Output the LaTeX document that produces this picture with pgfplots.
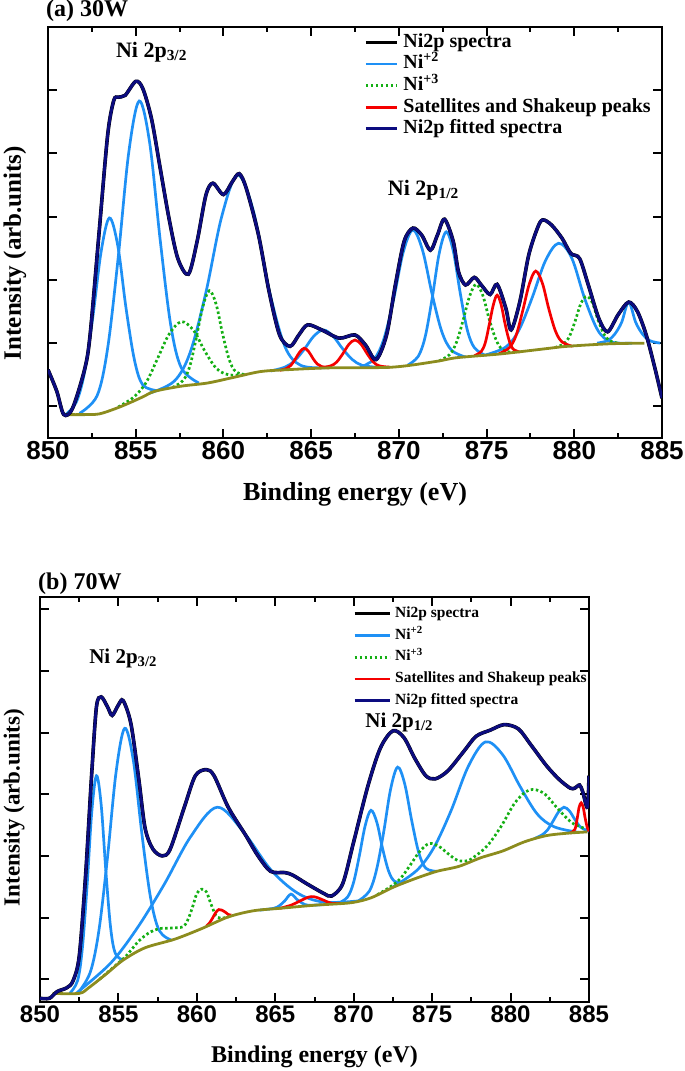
\documentclass[border=0pt]{standalone}
\usepackage{fontspec}
\setmainfont{Liberation Serif}
\newfontfamily\arialfont{Liberation Sans}
\usepackage{pgfplots}
\pgfplotsset{compat=1.18}
\definecolor{niblue}{RGB}{30,144,245}
\definecolor{nigreen}{RGB}{20,175,20}
\definecolor{nired}{RGB}{245,0,0}
\definecolor{ninavy}{RGB}{12,12,128}
\definecolor{niolive}{RGB}{140,140,30}
\pgfplotsset{
  xps/.style={
    scale only axis,
    xmin=850, xmax=885,
    xtick={850,855,...,885},
    minor x tick num=1,
    ytick={1,...,7},
    yticklabels={},
    tick align=inside,
    axis line style={line width=2.4pt},
    every tick/.style={black, line width=2pt},
    major tick length=9pt,
    minor tick length=5pt,
    /pgf/number format/assume math mode=true,
    /pgf/number format/1000 sep={},
    legend cell align=left,
    legend image code/.code={\draw[#1] (0pt,0pt) -- (31pt,0pt);},
  },
  cb/.style={niblue, line width=2.7pt, smooth, tension=0.55, forget plot},
  cg/.style={nigreen, line width=2.7pt, dash pattern=on 2.5pt off 2.5pt, smooth, tension=0.55, forget plot},
  cr/.style={nired, line width=2.7pt, smooth, tension=0.55, forget plot},
  co/.style={niolive, line width=2.8pt, smooth, tension=0.5, forget plot},
  ck/.style={black, line width=3.6pt, smooth, tension=0.5, forget plot},
  cn/.style={ninavy, line width=2.9pt, smooth, tension=0.5, forget plot},
}
\begin{document}
\begin{tikzpicture}
\useasboundingbox (0,0) rectangle (685pt,-1071pt);
% ---------------- panel (a) ----------------
\begin{axis}[xps,
  at={(48pt,-438pt)}, anchor=south west,
  width=614pt, height=411pt,
  ymin=0.5, ymax=7,
  xticklabel style={font=\arialfont\bfseries\fontsize{26}{26}\selectfont},
  xlabel={Binding energy (eV)},
  xlabel style={font=\bfseries\fontsize{26}{26}\selectfont, at={(axis description cs:0.5,0)}, anchor=center, yshift=-56pt},
  ylabel={Intensity (arb.units)},
  ylabel style={font=\bfseries\fontsize{25}{25}\selectfont, at={(axis description cs:-0.054,0.45)}, anchor=center, rotate=0},
  legend style={at={(axis description cs:0.515,0.985)}, anchor=north west, draw=none, fill=none,
    font=\bfseries\fontsize{20}{20}\selectfont, inner sep=0pt, row sep=3.6pt, column sep=5pt,
    nodes={inner sep=0pt, text height=14pt, text depth=4pt}},
]
\addlegendimage{black, line width=3pt}\addlegendentry{Ni2p spectra}
\addlegendimage{niblue, line width=2.7pt}\addlegendentry{Ni\textsuperscript{+2}}
\addlegendimage{nigreen, line width=2.7pt, dash pattern=on 2.5pt off 2.5pt}\addlegendentry{Ni\textsuperscript{+3}}
\addlegendimage{nired, line width=2.7pt}\addlegendentry{Satellites and Shakeup peaks}
\addlegendimage{ninavy, line width=2.9pt}\addlegendentry{Ni2p fitted spectra}
% Ni+2 components
\addplot[cb] coordinates {(851.0,0.87)(851.6,1.06)(852.07,1.52)(852.55,2.40)(853.03,3.45)(853.5,3.98)(853.98,3.54)(854.45,2.55)(854.93,1.73)(855.4,1.34)(856.2,1.25)};
\addplot[cb] coordinates {(851.8,0.89)(852.8,1.17)(853.4,1.92)(854.0,3.35)(854.6,5.01)(855.2,5.83)(855.8,5.16)(856.4,3.62)(857.0,2.28)(857.6,1.61)(858.6,1.37)};
\addplot[cb] coordinates {(855.8,1.21)(857.2,1.40)(858.1,1.85)(859.0,2.80)(859.9,4.00)(860.8,4.66)(861.7,4.10)(862.6,2.85)(863.5,1.95)(864.4,1.65)(865.8,1.61)};
\addplot[cb] coordinates {(862.7,1.56)(863.5,1.62)(864.05,1.72)(864.6,1.90)(865.15,2.11)(865.7,2.21)(866.25,2.11)(866.8,1.91)(867.35,1.74)(867.9,1.65)(868.7,1.62)};
\addplot[cb] coordinates {(867.8,1.62)(868.6,1.75)(869.15,2.07)(869.7,2.69)(870.25,3.44)(870.8,3.79)(871.35,3.47)(871.9,2.77)(872.45,2.18)(873.0,1.89)(873.8,1.78)};
\addplot[cb] coordinates {(870.5,1.65)(871.1,1.79)(871.5,2.10)(871.9,2.71)(872.3,3.42)(872.7,3.76)(873.1,3.46)(873.5,2.79)(873.9,2.21)(874.3,1.93)(874.9,1.81)};
\addplot[cb] coordinates {(874.9,1.81)(876.1,1.94)(876.85,2.21)(877.6,2.72)(878.35,3.30)(879.1,3.58)(879.85,3.35)(880.6,2.70)(881.35,2.20)(882.1,2.02)(883.3,2.0)};
\addplot[cb] coordinates {(881.3,2.0)(881.9,2.04)(882.3,2.14)(882.7,2.33)(883.1,2.65)(883.5,2.33)(883.9,2.14)(884.3,2.04)(884.9,2.0)};
% Ni+3 components
\addplot[cg] coordinates {(854.0,0.99)(854.9,1.15)(855.6,1.38)(856.25,1.76)(856.9,2.14)(857.6,2.34)(858.3,2.20)(858.95,1.87)(859.6,1.60)(860.3,1.50)(861.2,1.50)};
\addplot[cg] coordinates {(857.1,1.30)(857.7,1.41)(858.08,1.63)(858.45,2.08)(858.83,2.58)(859.2,2.83)(859.58,2.62)(859.95,2.15)(860.33,1.74)(860.7,1.55)(861.3,1.50)};
\addplot[cg] coordinates {(872.3,1.72)(872.9,1.82)(873.28,2.01)(873.65,2.35)(874.03,2.74)(874.4,2.93)(874.78,2.76)(875.15,2.38)(875.53,2.06)(875.9,1.90)(876.5,1.85)};
\addplot[cg] coordinates {(878.9,1.93)(879.4,1.99)(879.73,2.11)(880.05,2.35)(880.38,2.63)(880.7,2.74)(881.03,2.64)(881.35,2.37)(881.68,2.15)(882.0,2.04)(882.5,2.0)};
% satellites
\addplot[cr] coordinates {(863.2,1.57)(863.6,1.60)(863.85,1.65)(864.1,1.75)(864.35,1.86)(864.6,1.92)(864.85,1.87)(865.1,1.76)(865.35,1.67)(865.6,1.63)(866.0,1.61)};
\addplot[cr] coordinates {(865.5,1.61)(866.1,1.64)(866.45,1.70)(866.8,1.83)(867.15,1.98)(867.5,2.05)(867.85,1.98)(868.2,1.83)(868.55,1.70)(868.9,1.64)(869.5,1.62)};
\addplot[cr] coordinates {(874.3,1.80)(874.7,1.87)(874.93,2.01)(875.15,2.29)(875.38,2.60)(875.6,2.76)(875.83,2.61)(876.05,2.31)(876.28,2.05)(876.5,1.91)(876.9,1.86)};
\addplot[cr] coordinates {(875.7,1.83)(876.3,1.93)(876.68,2.12)(877.05,2.50)(877.43,2.93)(877.8,3.14)(878.18,2.95)(878.55,2.54)(878.93,2.19)(879.3,2.02)(879.9,1.95)};
% background
\addplot[co] coordinates {(851.0,0.87)(852.0,0.87)(852.9,0.88)(853.8,0.96)(854.6,1.05)(855.4,1.15)(856.1,1.24)(857.6,1.32)(859.1,1.37)(860.6,1.46)(862.1,1.55)(863.6,1.58)(866.1,1.61)(869.6,1.62)(872.1,1.71)(873.3,1.77)(875.8,1.83)(878.3,1.91)(879.6,1.95)(882.0,1.99)(884.0,2.0)};
% spectrum and fit
\addplot[ck] coordinates {(850.0,1.58)(850.5,1.24)(850.9,0.87)(851.4,0.97)(852.1,1.6)(852.4,2.13)(852.9,3.71)(853.4,5.29)(853.75,5.84)(854.0,5.89)(854.4,5.92)(855.0,6.14)(855.4,6.03)(855.9,5.55)(856.4,4.76)(856.9,3.97)(857.4,3.34)(858.0,3.09)(858.5,3.61)(859.0,4.34)(859.4,4.53)(860.0,4.35)(860.5,4.55)(860.9,4.68)(861.3,4.45)(862.0,3.71)(862.6,2.82)(863.2,2.13)(863.8,1.95)(864.3,2.13)(864.8,2.29)(865.6,2.21)(866.6,2.08)(867.5,2.13)(868.1,1.97)(868.7,1.74)(869.3,2.13)(869.8,2.92)(870.3,3.61)(870.8,3.82)(871.3,3.71)(871.8,3.47)(872.2,3.71)(872.6,3.96)(873.1,3.61)(873.4,3.13)(873.8,2.92)(874.3,3.04)(874.7,2.92)(875.2,2.77)(875.6,2.93)(876.1,2.55)(876.4,2.21)(876.9,2.66)(877.4,3.39)(877.9,3.82)(878.2,3.95)(878.7,3.87)(879.3,3.66)(879.8,3.42)(880.3,3.34)(880.8,2.92)(881.4,2.39)(881.9,2.18)(882.5,2.45)(883.1,2.65)(883.6,2.5)(884.1,2.13)(884.6,1.6)(885.0,1.13)};
\addplot[cn] coordinates {(850.0,1.58)(850.5,1.24)(850.9,0.87)(851.4,0.97)(852.1,1.6)(852.4,2.13)(852.9,3.71)(853.4,5.29)(853.75,5.84)(854.0,5.89)(854.4,5.92)(855.0,6.14)(855.4,6.03)(855.9,5.55)(856.4,4.76)(856.9,3.97)(857.4,3.34)(858.0,3.09)(858.5,3.61)(859.0,4.34)(859.4,4.53)(860.0,4.35)(860.5,4.55)(860.9,4.68)(861.3,4.45)(862.0,3.71)(862.6,2.82)(863.2,2.13)(863.8,1.95)(864.3,2.13)(864.8,2.29)(865.6,2.21)(866.6,2.08)(867.5,2.13)(868.1,1.97)(868.7,1.74)(869.3,2.13)(869.8,2.92)(870.3,3.61)(870.8,3.82)(871.3,3.71)(871.8,3.47)(872.2,3.71)(872.6,3.96)(873.1,3.61)(873.4,3.13)(873.8,2.92)(874.3,3.04)(874.7,2.92)(875.2,2.77)(875.6,2.93)(876.1,2.55)(876.4,2.21)(876.9,2.66)(877.4,3.39)(877.9,3.82)(878.2,3.95)(878.7,3.87)(879.3,3.66)(879.8,3.42)(880.3,3.34)(880.8,2.92)(881.4,2.39)(881.9,2.18)(882.5,2.45)(883.1,2.65)(883.6,2.5)(884.1,2.13)(884.6,1.6)(885.0,1.13)};
\node[font=\bfseries\fontsize{22}{22}\selectfont] at (axis cs:855.9,6.6) {Ni 2p\textsubscript{3/2}};
\node[font=\bfseries\fontsize{22}{22}\selectfont] at (axis cs:871.4,4.42) {Ni 2p\textsubscript{1/2}};
\end{axis}
% ---------------- panel (b) ----------------
\begin{axis}[xps,
  at={(40pt,-1002pt)}, anchor=south west,
  width=549pt, height=405pt,
  ymin=0.63, ymax=7.2,
  xticklabel style={font=\arialfont\bfseries\fontsize{24}{24}\selectfont},
  xlabel={Binding energy (eV)},
  xlabel style={font=\bfseries\fontsize{24}{24}\selectfont, at={(axis description cs:0.5,0)}, anchor=center, yshift=-55pt},
  ylabel={Intensity (arb.units)},
  ylabel style={font=\bfseries\fontsize{23}{23}\selectfont, at={(axis description cs:-0.047,0.48)}, anchor=center, rotate=0},
  legend image code/.code={\draw[#1] (0pt,0pt) -- (35pt,0pt);},
  legend style={at={(axis description cs:0.570,0.977)}, anchor=north west, draw=none, fill=none,
    font=\bfseries\fontsize{15.5}{15.5}\selectfont, inner sep=0pt, row sep=7.2pt, column sep=4pt,
    nodes={inner sep=0pt, text height=11pt, text depth=3.5pt}},
]
\addlegendimage{black, line width=3pt}\addlegendentry{Ni2p spectra}
\addlegendimage{niblue, line width=2.7pt}\addlegendentry{Ni\textsuperscript{+2}}
\addlegendimage{nigreen, line width=2.7pt, dash pattern=on 2.5pt off 2.5pt}\addlegendentry{Ni\textsuperscript{+3}}
\addlegendimage{nired, line width=2.7pt}\addlegendentry{Satellites and Shakeup peaks}
\addlegendimage{ninavy, line width=2.9pt}\addlegendentry{Ni2p fitted spectra}
% Ni+2
\addplot[cb] coordinates {(851.9,0.77)(852.4,0.98)(852.7,1.50)(853.0,2.51)(853.3,3.71)(853.6,4.30)(853.9,3.83)(854.2,2.75)(854.5,1.84)(854.8,1.42)(855.3,1.31)};
\addplot[cb] coordinates {(852.4,0.77)(853.2,1.11)(853.75,1.78)(854.3,2.97)(854.85,4.36)(855.4,5.07)(855.95,4.55)(856.5,3.35)(857.05,2.32)(857.6,1.79)(858.4,1.63)};
\addplot[cb] coordinates {(852.3,0.77)(854.5,1.26)(856.2,1.83)(857.9,2.53)(859.6,3.31)(861.3,3.79)(863.0,3.38)(864.7,2.78)(866.4,2.40)(868.1,2.25)(870.3,2.27)};
\addplot[cb] coordinates {(864.0,2.12)(864.9,2.15)(865.25,2.19)(865.6,2.27)(866.0,2.38)(866.4,2.29)(866.75,2.23)(867.1,2.20)(868.0,2.21)};
\addplot[cb] coordinates {(869.0,2.23)(869.6,2.33)(869.98,2.56)(870.35,2.99)(870.73,3.49)(871.1,3.74)(871.48,3.54)(871.85,3.11)(872.23,2.75)(872.6,2.59)(873.2,2.56)};
\addplot[cb] coordinates {(870.3,2.27)(871.0,2.43)(871.45,2.77)(871.9,3.37)(872.35,4.08)(872.8,4.44)(873.25,4.17)(873.7,3.57)(874.15,3.05)(874.6,2.80)(875.3,2.75)};
\addplot[cb] coordinates {(872.4,2.48)(874.0,2.76)(875.1,3.13)(876.2,3.73)(877.3,4.45)(878.4,4.85)(879.5,4.64)(880.6,4.13)(881.7,3.68)(882.8,3.47)(884.4,3.38)};
\addplot[cb] coordinates {(881.5,3.28)(882.0,3.34)(882.35,3.42)(882.7,3.56)(883.05,3.71)(883.4,3.79)(883.75,3.73)(884.1,3.59)(884.45,3.47)(884.8,3.42)(885.0,3.40)};
% Ni+3
\addplot[cg] coordinates {(853.8,1.00)(854.8,1.22)(855.5,1.38)(856.3,1.62)(857.0,1.76)(857.6,1.82)(858.4,1.83)(859.1,1.85)(859.4,1.95)(859.7,2.15)(860.0,2.39)(860.3,2.46)(860.6,2.42)(860.9,2.22)(861.2,2.04)(861.5,1.99)(862.0,2.01)};
\addplot[cg] coordinates {(871.5,2.37)(872.4,2.51)(873.0,2.64)(873.6,2.85)(874.2,3.07)(874.8,3.20)(875.4,3.16)(876.0,3.04)(876.6,2.93)(877.2,2.92)(877.6,2.97)(878.5,3.16)(879.4,3.48)(880.3,3.87)(881.2,4.07)(882.1,4.02)(883.0,3.77)(883.9,3.54)(884.8,3.44)};
% satellites
\addplot[cr] coordinates {(860.6,1.86)(860.8,1.91)(861.0,1.99)(861.2,2.08)(861.4,2.13)(861.6,2.12)(861.8,2.09)(862.0,2.05)(862.2,2.04)};
\addplot[cr] coordinates {(865.3,2.15)(866.0,2.20)(866.5,2.26)(867.0,2.32)(867.3,2.34)(867.6,2.33)(868.1,2.28)(868.6,2.23)(869.3,2.23)};
\addplot[cr] coordinates {(883.8,3.37)(884.1,3.43)(884.25,3.61)(884.37,3.79)(884.5,3.86)(884.63,3.79)(884.75,3.62)(884.9,3.45)(885.0,3.40)};
% background
\addplot[co] coordinates {(850.8,0.77)(852.5,0.77)(853.1,0.86)(854.2,1.08)(855.3,1.31)(856.7,1.51)(858.6,1.65)(860.3,1.82)(862.0,2.01)(863.6,2.11)(865.3,2.15)(867.5,2.20)(869.8,2.24)(871.1,2.32)(872.5,2.49)(873.9,2.63)(875.3,2.75)(876.7,2.83)(878.1,2.97)(879.5,3.08)(880.9,3.23)(882.3,3.33)(883.7,3.37)(884.9,3.39)};
% spectrum and fit
\addplot[ck] coordinates {(850.0,0.69)(850.6,0.69)(851.1,0.80)(851.7,0.86)(852.1,0.97)(852.5,1.37)(852.9,2.66)(853.3,4.35)(853.6,5.42)(853.9,5.58)(854.3,5.42)(854.6,5.28)(855.0,5.45)(855.3,5.52)(855.8,5.14)(856.3,4.24)(856.7,3.45)(857.2,3.11)(857.8,3.0)(858.3,3.11)(859.2,3.79)(859.9,4.30)(860.6,4.40)(861.1,4.30)(862.0,3.79)(863.1,3.34)(863.9,3.0)(864.7,2.75)(865.6,2.73)(866.1,2.69)(867.0,2.55)(868.1,2.39)(868.6,2.35)(869.3,2.55)(870.0,3.23)(870.9,4.13)(871.7,4.75)(872.5,5.03)(873.2,4.92)(873.9,4.58)(874.6,4.30)(875.2,4.25)(876.0,4.38)(877.0,4.69)(877.8,4.94)(878.7,5.04)(879.6,5.13)(880.5,5.06)(881.3,4.80)(882.3,4.46)(883.1,4.24)(883.8,4.10)(884.1,4.10)(884.4,4.15)(884.6,4.04)(884.9,3.79)(885.0,4.3)};
\addplot[cn] coordinates {(850.0,0.69)(850.6,0.69)(851.1,0.80)(851.7,0.86)(852.1,0.97)(852.5,1.37)(852.9,2.66)(853.3,4.35)(853.6,5.42)(853.9,5.58)(854.3,5.42)(854.6,5.28)(855.0,5.45)(855.3,5.52)(855.8,5.14)(856.3,4.24)(856.7,3.45)(857.2,3.11)(857.8,3.0)(858.3,3.11)(859.2,3.79)(859.9,4.30)(860.6,4.40)(861.1,4.30)(862.0,3.79)(863.1,3.34)(863.9,3.0)(864.7,2.75)(865.6,2.73)(866.1,2.69)(867.0,2.55)(868.1,2.39)(868.6,2.35)(869.3,2.55)(870.0,3.23)(870.9,4.13)(871.7,4.75)(872.5,5.03)(873.2,4.92)(873.9,4.58)(874.6,4.30)(875.2,4.25)(876.0,4.38)(877.0,4.69)(877.8,4.94)(878.7,5.04)(879.6,5.13)(880.5,5.06)(881.3,4.80)(882.3,4.46)(883.1,4.24)(883.8,4.10)(884.1,4.10)(884.4,4.15)(884.6,4.04)(884.9,3.79)(885.0,4.3)};
\node[font=\bfseries\fontsize{21}{21}\selectfont] at (axis cs:855.3,6.2) {Ni 2p\textsubscript{3/2}};
\node[font=\bfseries\fontsize{21}{21}\selectfont] at (axis cs:872.9,5.17) {Ni 2p\textsubscript{1/2}};
\end{axis}
\node[font=\bfseries\fontsize{24}{24}\selectfont, anchor=west, inner sep=0pt] at (46pt,-11pt) {(a) 30W};
\node[font=\bfseries\fontsize{24}{24}\selectfont, anchor=west, inner sep=0pt] at (38pt,-584pt) {(b) 70W};
\end{tikzpicture}
\end{document}
